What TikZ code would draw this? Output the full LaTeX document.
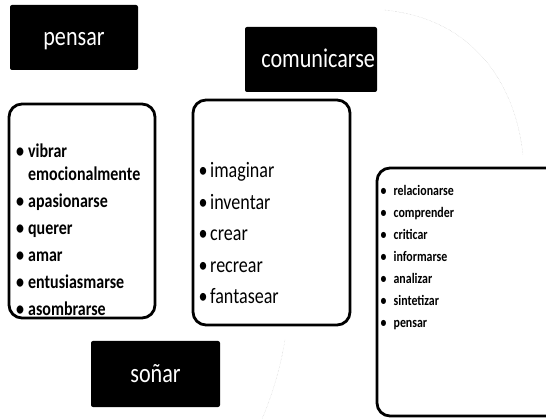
\documentclass[tikz,border=0pt]{standalone}
\usepackage{fontspec}
\setmainfont{Carlito}[FakeStretch=0.82]
\usetikzlibrary{positioning}

\begin{document}
\begin{tikzpicture}[
    x=1pt, y=-1pt,
    hdr/.style={fill=black, rounded corners=2pt, text=white, minimum width=128pt, minimum height=65pt, inner sep=0pt,
                text height=17pt, text depth=0pt, font=\fontsize{27}{30}\selectfont},
    lbox/.style={draw, line width=2.8pt, rounded corners=13pt},
    lst/.style={anchor=north west, inner sep=0pt, align=left},
    scan/.style={gray!45, densely dotted, thin}
]
\clip (0,0) rectangle (546,419);

% faint trace of the scanned circle
\draw[scan] (384,10) .. controls (470,18) and (515,80) .. (523,155);
\draw[scan] (285,340) .. controls (280,370) and (272,395) .. (262,419);

\node[hdr] (pensar_t) at (74,37.5) {pensar};
\node[hdr, minimum width=132pt, text width=128pt, align=right] (comun_t) at (311,59.5) {comunicarse};
\node[hdr, minimum width=129pt, minimum height=66pt] (sonar_t) at (155.5,374) {soñar};

\node[lbox, minimum width=146pt, minimum height=214pt] (box_l) at (82,211) {};
\node[lbox, minimum width=157pt, minimum height=225pt] (box_m) at (271.5,212.5) {};
\node[lbox, minimum width=183pt, minimum height=248pt] (box_r) at (468.5,292) {};

\node[lst, font=\bfseries\fontsize{19.5}{27}\selectfont] (list_l) at (16,144)
      {•\hspace{4pt}vibrar \\[-4pt] \hphantom{•\hspace{4pt}}emocionalmente \\
       •\hspace{4pt}apasionarse \\ •\hspace{4pt}querer \\ •\hspace{4pt}amar \\
       •\hspace{4pt}entusiasmarse \\ •\hspace{4pt}asombrarse};
\node[lst, font=\fontsize{22}{31.5}\selectfont] (list_m) at (198.5,162.5)
      {•\hspace{2.5pt}imaginar \\ •\hspace{2.5pt}inventar \\ •\hspace{2.5pt}crear \\
       •\hspace{2.5pt}recrear \\ •\hspace{2.5pt}fantasear};
\node[lst, font=\bfseries\fontsize{14.5}{22}\selectfont] (list_r) at (380.5,185)
      {•\hspace{7pt}relacionarse \\ •\hspace{7pt}comprender \\ •\hspace{7pt}criticar \\
       •\hspace{7pt}informarse \\ •\hspace{7pt}analizar \\ •\hspace{7pt}sintetizar \\
       •\hspace{7pt}pensar};
\end{tikzpicture}
\end{document}
